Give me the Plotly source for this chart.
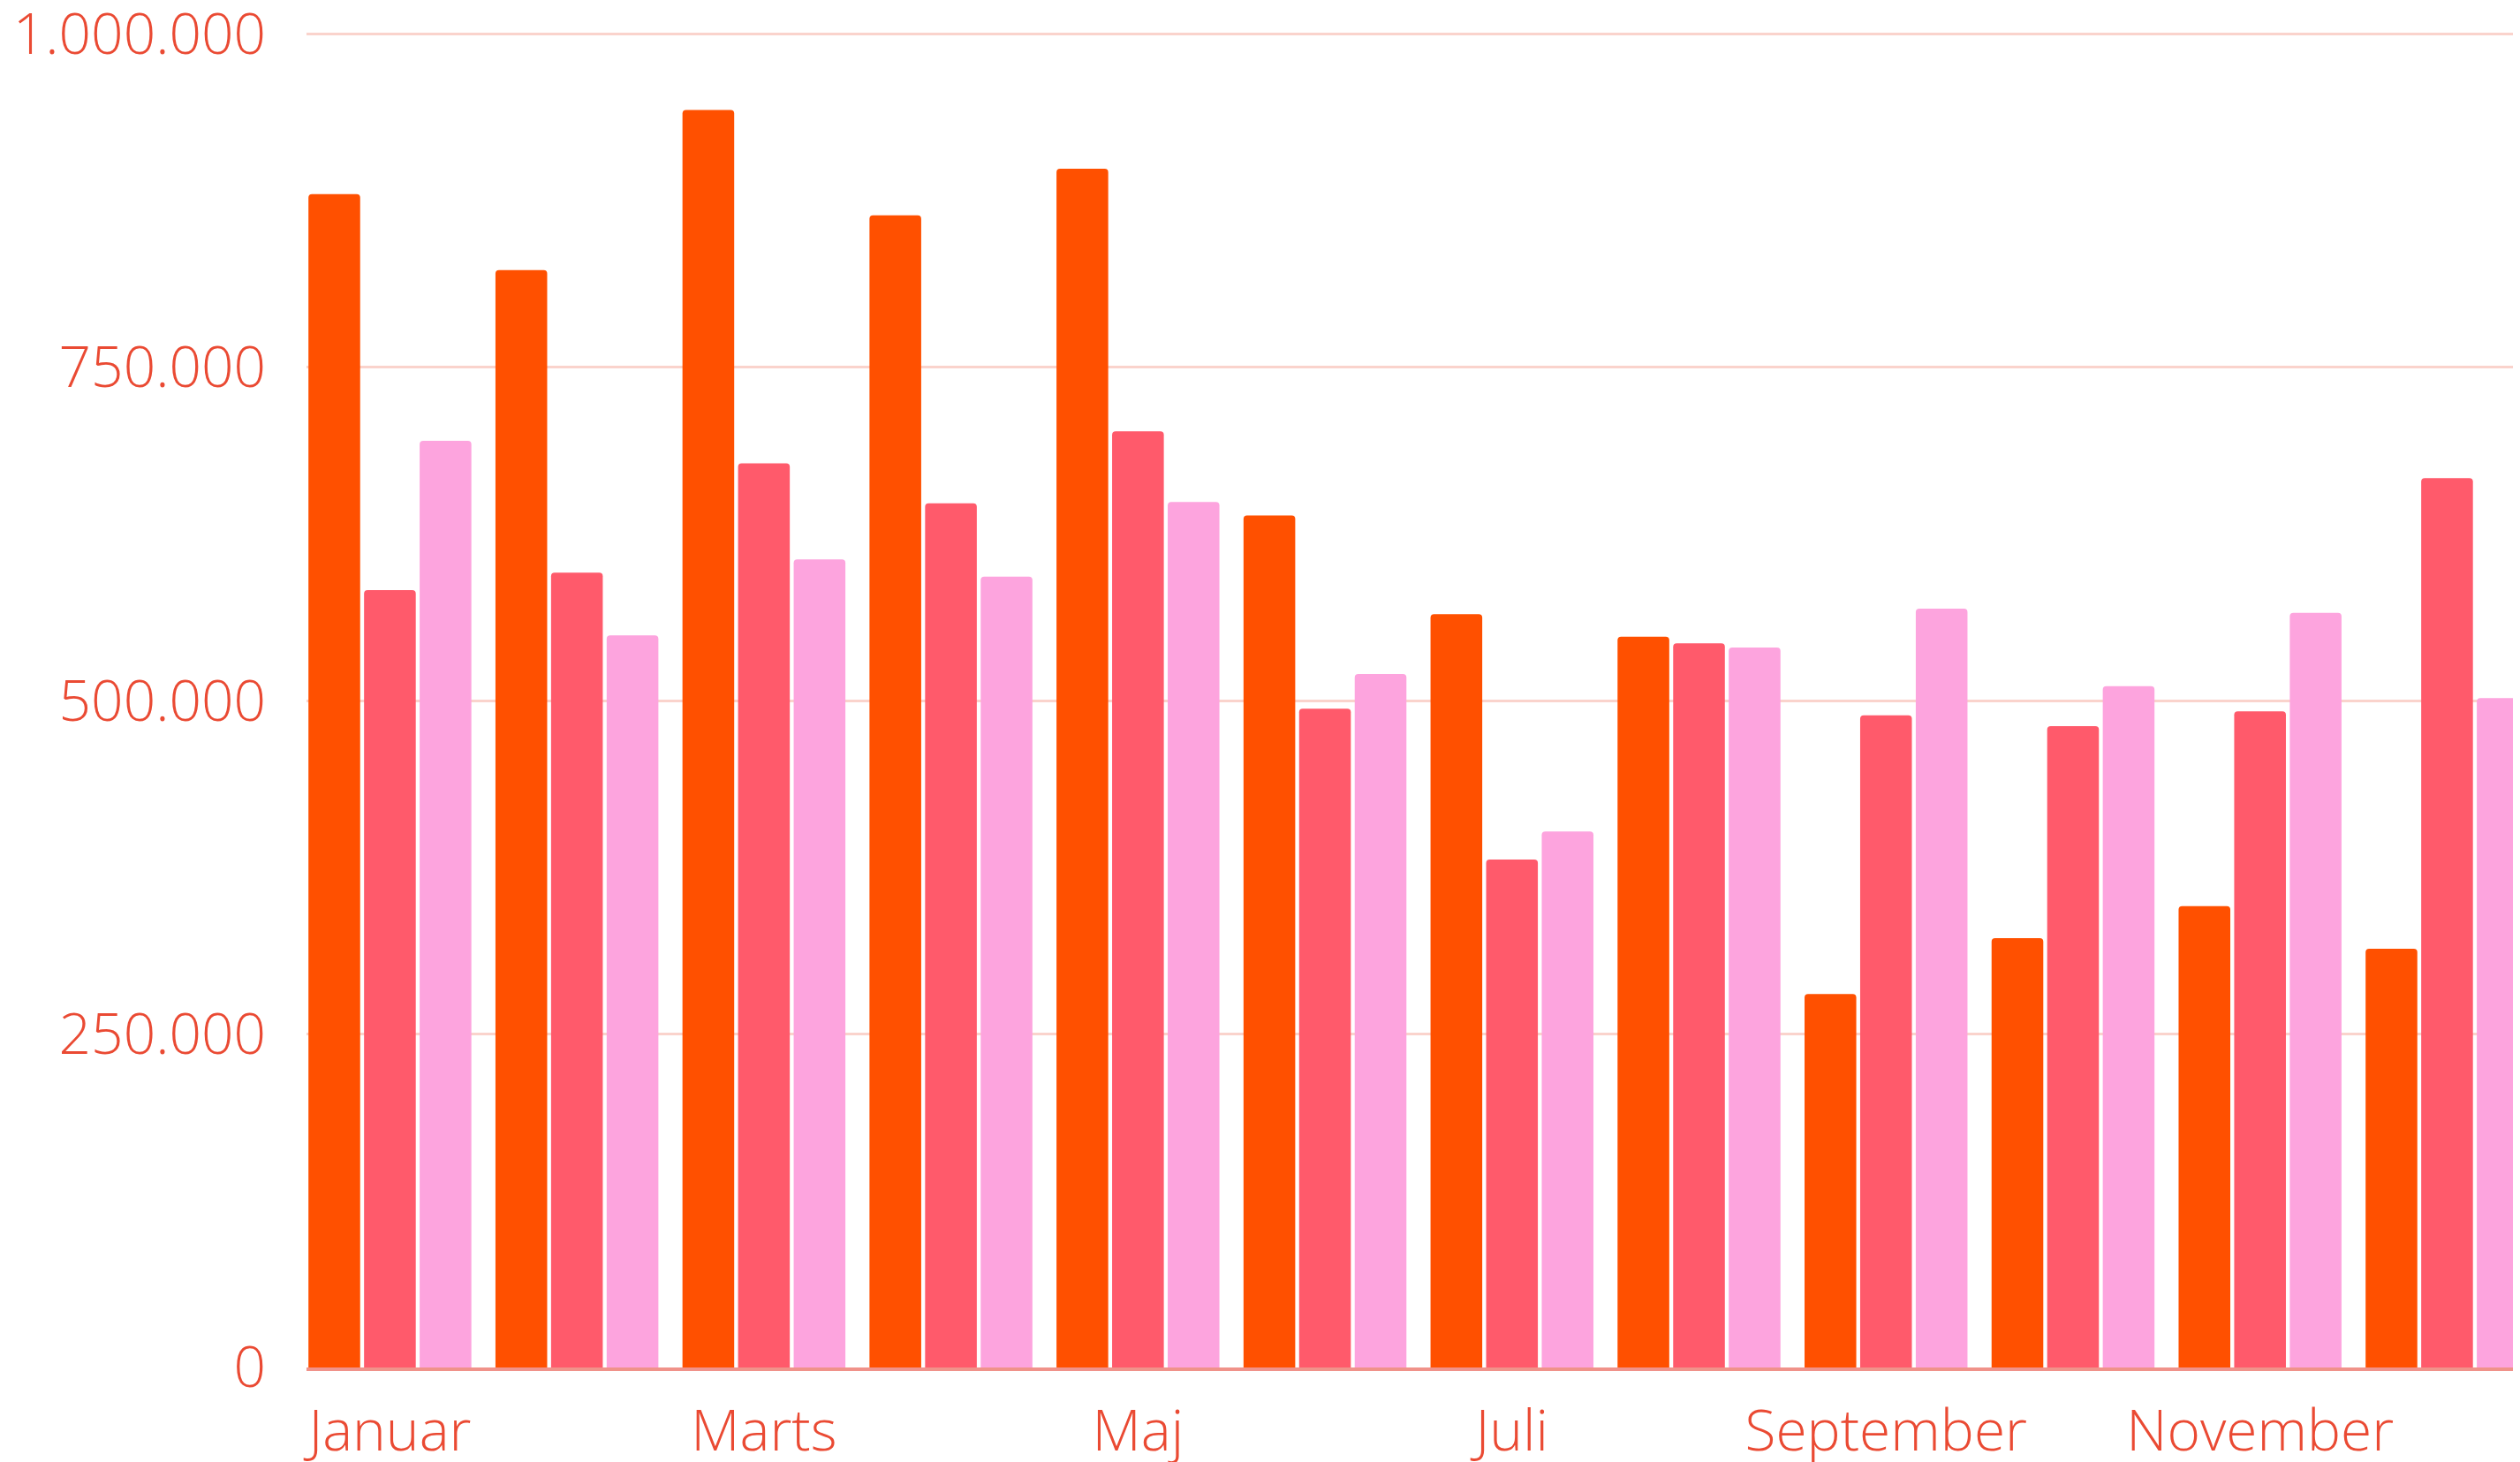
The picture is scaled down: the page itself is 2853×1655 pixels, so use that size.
import plotly.graph_objects as go

months = ["Januar", "Februar", "Marts", "April", "Maj", "Juni",
          "Juli", "August", "September", "Oktober", "November", "December"]
series_a = [880000, 823000, 943000, 864000, 899000, 639000,
            565000, 548000, 280000, 322000, 346000, 314000]
series_b = [583000, 596000, 678000, 648000, 702000, 494000,
            381000, 543000, 489000, 481000, 492000, 667000]
series_c = [695000, 549000, 606000, 593000, 649000, 520000,
            402000, 540000, 569000, 511000, 566000, 502000]
x_tick_labels = ["Januar", "Marts", "Maj", "Juli", "September", "November"]
y_ticks = [0, 250000, 500000, 750000, 1000000]

colors = ["#FF5000", "#FF5A6B", "#FDA4DE"]
text_color = "#EA4A33"

fig = go.Figure()
for vals, col in zip([series_a, series_b, series_c], colors):
    fig.add_trace(go.Bar(x=months, y=vals, marker=dict(color=col, line=dict(width=0)),
                         hoverinfo="skip"))

# page body has an 8px default margin, so the figure is sized to the visible area
fig.update_layout(
    width=2845, height=1647,
    margin=dict(l=339, r=0, t=29, b=107),
    paper_bgcolor="white", plot_bgcolor="white",
    barmode="group", bargap=0.108, bargroupgap=0.07,
    barcornerradius=4,
    showlegend=False,
    separators=",.",
    font=dict(family="Open Sans", size=64, color=text_color, weight=300),
)
fig.update_xaxes(
    type="category", categoryorder="array", categoryarray=months,
    range=[-0.446, 11.39], automargin=False,
    tickvals=x_tick_labels, ticktext=x_tick_labels,
    showgrid=False, zeroline=False,
    showline=True, linecolor="#F0928A", linewidth=4, layer="below traces",
    ticks="", ticklabelstandoff=13, ticklabeloverflow="allow",
    tickfont=dict(family="Open Sans", size=64, color=text_color, weight=300),
)
fig.update_yaxes(
    range=[0, 1001000], tickvals=y_ticks, tickformat=",d", automargin=False,
    showgrid=True, gridcolor="#FAD3CC", gridwidth=3,
    zeroline=False, showline=False, ticks="",
    ticklabelstandoff=45, ticklabeloverflow="allow",
    tickfont=dict(family="Open Sans", size=64, color=text_color, weight=300),
)

fig.write_html("out.html")
